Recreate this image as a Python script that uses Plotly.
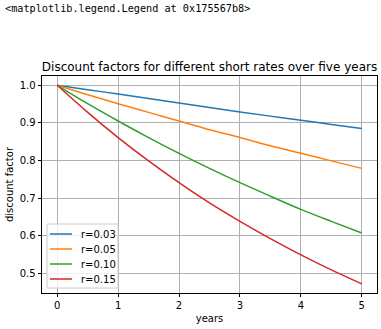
import plotly.graph_objects as go

# time grid in years
years = [0.0, 0.5, 1.0, 1.5, 2.0, 2.5, 3.0, 3.5, 4.0, 4.5, 5.0]

# discount factors for each short rate
df_r003 = [1.000, 0.988, 0.977, 0.965, 0.953, 0.941, 0.929, 0.918, 0.907, 0.896, 0.885]
df_r005 = [1.000, 0.975, 0.951, 0.928, 0.905, 0.882, 0.861, 0.839, 0.819, 0.799, 0.779]
df_r010 = [1.000, 0.951, 0.905, 0.861, 0.819, 0.779, 0.741, 0.705, 0.670, 0.638, 0.607]
df_r015 = [1.000, 0.928, 0.861, 0.799, 0.741, 0.687, 0.638, 0.592, 0.549, 0.509, 0.472]

labels = ["r=0.03", "r=0.05", "r=0.10", "r=0.15"]
series = [df_r003, df_r005, df_r010, df_r015]
colors = ["#1f77b4", "#ff7f0e", "#2ca02c", "#d62728"]

# figure geometry (pixels)
W, H = 381, 329
ML, MR, MT, MB = 42, 4, 76, 36
PW, PH = W - ML - MR, H - MT - MB


def px_x(x):
    return (x - ML) / PW


def px_y(y):
    return 1 - (y - MT) / PH


fig = go.Figure()
for name, ys, c in zip(labels, series, colors):
    fig.add_trace(go.Scatter(x=years, y=ys, mode="lines", name=name,
                             line=dict(color=c, width=1.5, shape="spline"),
                             showlegend=False))

axis_common = dict(
    showgrid=True, gridcolor="#b0b0b0", gridwidth=0.8,
    showline=True, linecolor="#000000", linewidth=0.8, mirror=True,
    ticks="outside", ticklen=3.5, tickwidth=0.8, tickcolor="#000000",
    zeroline=False, tickfont=dict(family="DejaVu Sans", size=10, color="#000000"),
)

fig.update_xaxes(range=[-0.25, 5.25], tickvals=[0, 1, 2, 3, 4, 5],
                 title=dict(text="years", font=dict(family="DejaVu Sans", size=10, color="#000000"),
                            standoff=4),
                 **axis_common)
fig.update_yaxes(range=[0.4476, 1.0247], tickvals=[0.5, 0.6, 0.7, 0.8, 0.9, 1.0],
                 ticktext=["0.5", "0.6", "0.7", "0.8", "0.9", "1.0"],
                 title=dict(text="discount factor", font=dict(family="DejaVu Sans", size=10, color="#000000"),
                            standoff=4),
                 **axis_common)

fig.update_layout(
    width=W, height=H,
    margin=dict(l=ML, r=MR, t=MT, b=MB),
    paper_bgcolor="white", plot_bgcolor="white",
    title=dict(text="Discount factors for different short rates over five years",
               x=0.5, xref="paper", xanchor="center",
               y=1 - 67 / H, yref="container", yanchor="middle",
               font=dict(family="DejaVu Sans", size=12, color="#000000")),
    showlegend=False,
)

# legend box in the lower-left corner of the axes
fig.add_shape(type="rect", xref="paper", yref="paper",
              x0=px_x(47), x1=px_x(118), y0=px_y(288), y1=px_y(224),
              line=dict(color="#cccccc", width=1), fillcolor="rgba(255,255,255,0.8)",
              layer="above")
for i, (name, c) in enumerate(zip(labels, colors)):
    yc = 234 + i * 15
    fig.add_shape(type="line", xref="paper", yref="paper",
                  x0=px_x(50), x1=px_x(72), y0=px_y(yc), y1=px_y(yc),
                  line=dict(color=c, width=1.5), layer="above")
    fig.add_annotation(text=name, xref="paper", yref="paper",
                       x=px_x(79), y=px_y(yc), xanchor="left", yanchor="middle",
                       showarrow=False,
                       font=dict(family="DejaVu Sans", size=10, color="#000000"))

# cell output text printed above the figure
fig.add_annotation(text="&lt;matplotlib.legend.Legend at 0x175567b8&gt;",
                   xref="paper", yref="paper", x=px_x(3), y=px_y(9),
                   xanchor="left", yanchor="middle", showarrow=False,
                   font=dict(family="DejaVu Sans Mono", size=10.2, color="#000000"))

fig.write_html("out.html")
